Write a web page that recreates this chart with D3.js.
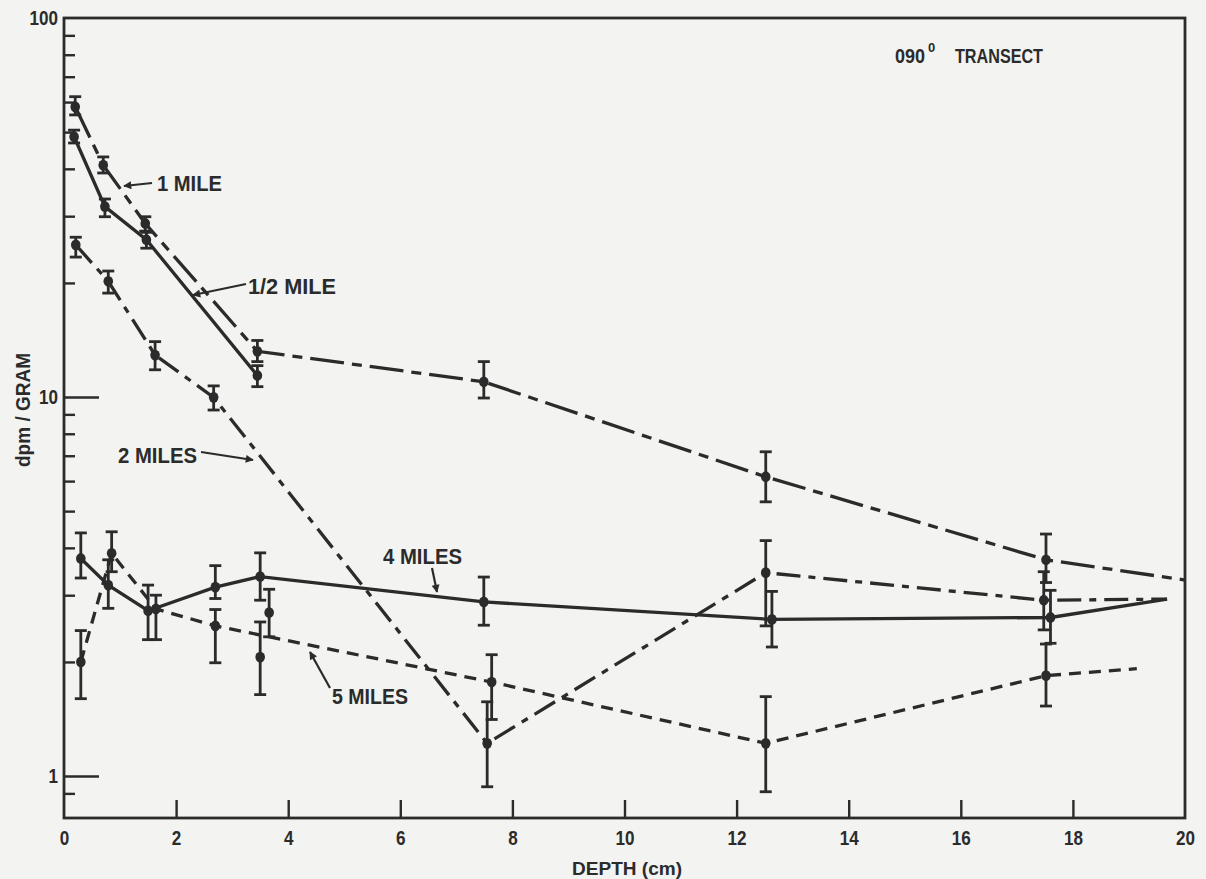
<!DOCTYPE html>
<html><head><meta charset="utf-8">
<script src="https://cdn.jsdelivr.net/npm/d3@7"></script>
<style>
body{margin:0;background:#f3f3f1;}
svg{display:block;}
text{font-family:"Liberation Sans Narrow","Arial Narrow","Liberation Sans",Arial,sans-serif;fill:#2b2b2b;font-weight:bold;}
</style>
</head><body>
<svg id="c" width="1206" height="879"></svg>
<script>
// ---------- data ----------
const xTicks = [0,2,4,6,8,10,12,14,16,18,20];
const yMajorTicks = [1,10,100];
const yMinorTicks = [0.9,2,3,4,5,6,7,8,9,20,30,40,50,60,70,80,90];

// line vertices: [depth cm, dpm/gram]
const halfMileLine  = [[0.18,48.6],[0.73,31.8],[1.47,26.0],[3.45,11.4]];
const oneMileLine   = [[0.20,58.3],[0.70,40.9],[1.45,28.7],[3.45,13.2],[7.49,10.97],[12.52,6.16],[17.52,3.72],[20,3.29]];
const twoMilesLine  = [[0.21,25.2],[0.79,20.2],[1.625,12.9],[2.67,9.98],[7.55,1.22],[12.52,3.44],[17.48,2.91],[19.68,2.93]];
const fourMilesLine = [[0.30,3.75],[0.79,3.19],[1.50,2.73],[2.70,3.15],[3.50,3.36],[7.49,2.88],[12.63,2.59],[17.60,2.62],[19.68,2.93]];
const fiveMilesLine = [[0.30,2.00],[0.85,3.87],[1.64,2.76],[2.70,2.49],[7.63,1.77],[12.52,1.22],[17.52,1.84],[19.14,1.92]];

// measured points: [depth, value, low, high]
const halfMilePoints  = [[0.18,48.6,46.8,50.6],[0.73,31.8,29.9,33.3],[1.47,26.0,24.7,27.2],[3.45,11.4,10.65,12.1]];
const oneMilePoints   = [[0.20,58.3,55.5,62.0],[0.70,40.9,39.0,43.0],[1.45,28.7,27.4,29.9],[3.45,13.2,12.4,14.1],[7.49,10.97,9.94,12.4],[12.52,6.16,5.29,7.17],[17.52,3.72,3.24,4.35]];
const twoMilesPoints  = [[0.21,25.2,23.4,26.4],[0.79,20.2,18.8,21.5],[1.625,12.9,11.8,14.0],[2.67,9.98,9.24,10.7],[7.55,1.22,0.937,1.57],[12.52,3.44,2.49,4.18],[17.48,2.91,2.43,3.46]];
const fourMilesPoints = [[0.30,3.75,3.33,4.38],[0.79,3.19,2.77,3.72],[1.50,2.73,2.29,3.19],[2.70,3.15,2.94,3.59],[3.50,3.36,2.91,3.88],[7.49,2.88,2.50,3.35],[12.63,2.59,2.19,3.07],[17.60,2.62,2.24,3.09]];
const fiveMilesPoints = [[0.30,2.00,1.60,2.42],[0.85,3.87,3.46,4.41],[1.64,2.76,2.29,3.00],[2.70,2.49,1.99,2.75],[7.63,1.77,1.41,2.09],[12.52,1.22,0.909,1.62],[17.52,1.84,1.53,2.23]];
const extraPoints     = [[3.66,2.70,2.33,3.11],[3.50,2.06,1.64,2.55]];

const seriesNames = ["1/2 MILE","1 MILE","2 MILES","4 MILES","5 MILES"];

// ---------- chart ----------
const ink = "#2b2b2b";
const svg = d3.select("#c");
const L=64, R=1185, T=18, B=818;
const x = d3.scaleLinear().domain([0,20]).range([L,R]);
const y = d3.scaleLog().domain([0.775,100]).range([B,T]);

// frame
svg.append("rect").attr("x",L).attr("y",T).attr("width",R-L).attr("height",B-T)
  .attr("fill","none").attr("stroke",ink).attr("stroke-width",2.8);

function styleAxis(g){ g.select(".domain").remove(); g.selectAll("line").attr("stroke",ink).attr("stroke-width",2.4); }
svg.append("g").attr("transform",`translate(${L},0)`)
  .call(d3.axisRight(y).tickValues(yMinorTicks).tickSize(11).tickFormat("")).call(styleAxis);
svg.append("g").attr("transform",`translate(${L},0)`)
  .call(d3.axisRight(y).tickValues(yMajorTicks.filter(v=>v<100)).tickSize(35).tickFormat("")).call(styleAxis);
const yl = svg.append("g").attr("transform",`translate(${L-6},0)`)
  .call(d3.axisLeft(y).tickValues(yMajorTicks).tickSize(0).tickPadding(0).tickFormat(d3.format("d")));
yl.select(".domain").remove();
yl.selectAll("text").attr("font-size",20).attr("fill",ink).style("font-family",null)
  .attr("textLength",d=>String(d).length*9.5).attr("lengthAdjust","spacingAndGlyphs");

svg.append("g").attr("transform",`translate(0,${B})`)
  .call(d3.axisTop(x).tickValues(xTicks.filter(v=>v>0&&v<20)).tickSize(18).tickFormat("")).call(styleAxis);
const xl = svg.append("g").attr("transform",`translate(0,${B+13})`)
  .call(d3.axisBottom(x).tickValues(xTicks).tickSize(0).tickPadding(0));
xl.select(".domain").remove();
xl.selectAll("text").attr("font-size",20).attr("fill",ink).style("font-family",null)
  .attr("textLength",d=>String(d).length*9.5).attr("lengthAdjust","spacingAndGlyphs");

// axis titles
svg.append("text").attr("x",627).attr("y",875).attr("text-anchor","middle")
  .attr("font-size",19).attr("textLength",110).attr("lengthAdjust","spacingAndGlyphs").text("DEPTH (cm)");
svg.append("text").attr("transform","translate(30,410) rotate(-90)").attr("text-anchor","middle")
  .attr("font-size",20).attr("textLength",114).attr("lengthAdjust","spacingAndGlyphs").text("dpm / GRAM");

// title
const tt = svg.append("text").attr("y",63).attr("font-size",21);
tt.append("tspan").attr("x",895).attr("textLength",30).attr("lengthAdjust","spacingAndGlyphs").text("090");
tt.append("tspan").attr("x",928).attr("dy",-11).attr("font-size",13).text("0");
tt.append("tspan").attr("x",955).attr("dy",11).attr("textLength",88).attr("lengthAdjust","spacingAndGlyphs").text("TRANSECT");

// lines
const line = d3.line().x(d=>x(d[0])).y(d=>y(d[1]));
const lineDefs = [
  {data:halfMileLine,  dash:null},
  {data:oneMileLine,   dash:"34,8,10,8"},
  {data:twoMilesLine,  dash:"24,8,7,8"},
  {data:fourMilesLine, dash:null},
  {data:fiveMilesLine, dash:"12,8"}
];
svg.append("g").selectAll("path").data(lineDefs).join("path")
  .attr("d",d=>line(d.data)).attr("fill","none").attr("stroke",ink)
  .attr("stroke-width",3.3).attr("stroke-dasharray",d=>d.dash);

// error bars + points
const allPoints = [].concat(halfMilePoints,oneMilePoints,twoMilesPoints,fourMilesPoints,fiveMilesPoints,extraPoints);
const pg = svg.append("g");
const eb = pg.selectAll("g.eb").data(allPoints).join("g").attr("class","eb");
eb.append("line").attr("x1",d=>x(d[0])).attr("x2",d=>x(d[0])).attr("y1",d=>y(d[2])).attr("y2",d=>y(d[3]))
  .attr("stroke",ink).attr("stroke-width",2.8);
eb.append("line").attr("x1",d=>x(d[0])-6).attr("x2",d=>x(d[0])+6).attr("y1",d=>y(d[2])).attr("y2",d=>y(d[2]))
  .attr("stroke",ink).attr("stroke-width",2.8);
eb.append("line").attr("x1",d=>x(d[0])-6).attr("x2",d=>x(d[0])+6).attr("y1",d=>y(d[3])).attr("y2",d=>y(d[3]))
  .attr("stroke",ink).attr("stroke-width",2.8);
eb.append("ellipse").attr("cx",d=>x(d[0])).attr("cy",d=>y(d[1])).attr("rx",4.8).attr("ry",5.4).attr("fill",ink);

// annotations (labels with arrows)
svg.append("defs").append("marker").attr("id","ah").attr("viewBox","0 0 10 10")
  .attr("refX",9).attr("refY",5).attr("markerWidth",13).attr("markerHeight",8)
  .attr("markerUnits","userSpaceOnUse").attr("orient","auto")
  .append("path").attr("d","M0,0 L10,5 L0,10 Z").attr("fill",ink);
const annotations = [
  {name:seriesNames[1], tx:157, ty:191, w:65, ax1:152, ay1:183, ax2:124, ay2:186},
  {name:seriesNames[0], tx:248, ty:294, w:88, ax1:246, ay1:284, ax2:193, ay2:295},
  {name:seriesNames[2], tx:118, ty:463, w:79, ax1:201, ay1:452, ax2:253, ay2:460},
  {name:seriesNames[3], tx:383, ty:564, w:79, ax1:432, ay1:568, ax2:437, ay2:592},
  {name:seriesNames[4], tx:332, ty:704, w:76, ax1:330, ay1:688, ax2:310, ay2:652}
];
const ag = svg.append("g");
ag.selectAll("text").data(annotations).join("text")
  .attr("x",d=>d.tx).attr("y",d=>d.ty).attr("font-size",22)
  .attr("textLength",d=>d.w).attr("lengthAdjust","spacingAndGlyphs").text(d=>d.name);
ag.selectAll("line").data(annotations).join("line")
  .attr("x1",d=>d.ax1).attr("y1",d=>d.ay1).attr("x2",d=>d.ax2).attr("y2",d=>d.ay2)
  .attr("stroke",ink).attr("stroke-width",2.2).attr("marker-end","url(#ah)");
</script>
</body></html>
